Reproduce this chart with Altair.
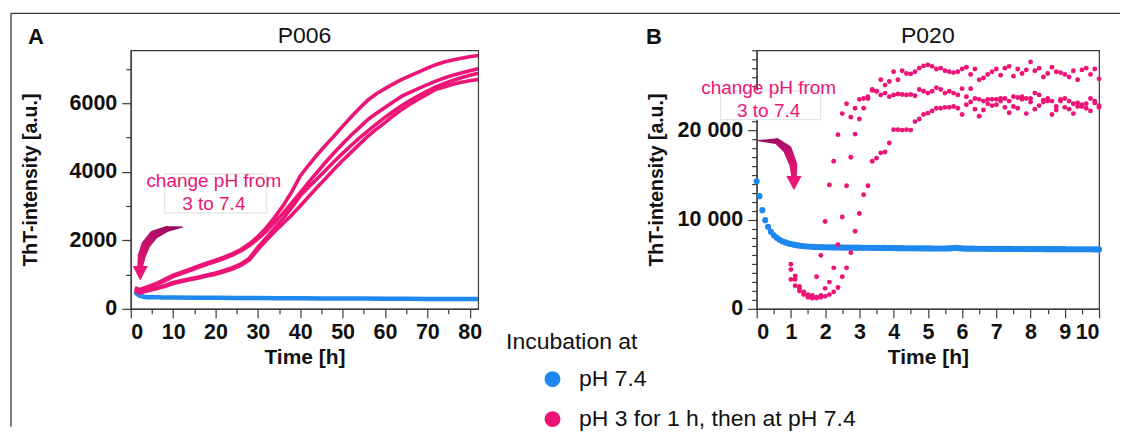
import altair as alt
import pandas as pd

FONT = "Liberation Sans"
PINK = "#EC1476"
BLUE = "#1E88F0"
DARK = "#8A0B5E"
INK = "#111111"
FRAME = "#3a3a3a"

COND_BLUE = "pH 7.4"
COND_PINK = "pH 3 for 1 h, then at pH 7.4"

# ---------------- Panel A (P006) ----------------
a_time = [1, 2, 4, 6, 8, 10, 12, 14, 16, 18, 20, 22, 24, 26, 28, 30, 32, 34, 36, 38, 40,
          42, 44, 46, 48, 50, 52, 54, 56, 58, 60, 62, 64, 66, 68, 70, 72, 74, 76, 78, 80, 82]
a_rep1 = [620, 560, 650, 740, 860, 980, 1070, 1160, 1250, 1340, 1420, 1510, 1610, 1730, 1900, 2110,
          2370, 2680, 3020, 3420, 3880, 4200, 4500, 4780, 5050, 5330, 5600, 5860, 6100, 6280, 6430,
          6570, 6700, 6810, 6920, 7030, 7130, 7210, 7270, 7320, 7360, 7400]
a_rep2 = [600, 540, 620, 710, 820, 940, 1030, 1120, 1210, 1300, 1380, 1470, 1570, 1690, 1850, 2040,
          2270, 2530, 2800, 3090, 3390, 3700, 3990, 4280, 4560, 4820, 5070, 5300, 5530, 5710, 5880,
          6050, 6210, 6330, 6440, 6550, 6650, 6740, 6820, 6890, 6950, 7010]
a_rep3 = [560, 480, 550, 610, 680, 770, 830, 880, 930, 990, 1050, 1120, 1200, 1310, 1480, 1800,
          2080, 2360, 2640, 2960, 3300, 3560, 3800, 4050, 4300, 4540, 4770, 4990, 5200, 5400, 5590,
          5770, 5940, 6090, 6230, 6360, 6480, 6580, 6670, 6750, 6820, 6880]
a_rep4 = [540, 460, 530, 590, 650, 740, 800, 850, 900, 960, 1010, 1080, 1160, 1270, 1430, 1730,
          2000, 2260, 2500, 2740, 3005, 3280, 3550, 3810, 4075, 4330, 4570, 4810, 5047, 5250, 5440,
          5640, 5825, 5980, 6130, 6270, 6410, 6480, 6560, 6620, 6660, 6700]
a_blue_time = [1, 1.5, 2, 3, 4, 6, 8, 10, 15, 20, 25, 30, 35, 40, 45, 50, 55, 60, 65, 70, 75, 80, 82]
a_blue = [500, 430, 390, 355, 340, 335, 333, 330, 326, 322, 318, 315, 312, 308, 305, 302, 299, 296,
          293, 290, 288, 286, 285]

a_x_major = [0, 10, 20, 30, 40, 50, 60, 70, 80]
a_x_minor = [5, 15, 25, 35, 45, 55, 65, 75]
a_y_major = [0, 2000, 4000, 6000]
a_y_minor = [1000, 3000, 5000, 7000]

a_note_text = ["change pH from", "3 to 7.4"]
a_note_t = [19.6, 19.6]
a_note_v = [3734, 3063]
a_box = {"t1": 8.0, "t2": 32.1, "v1": 2800, "v2": 3938}
a_arrow_t = [12.26, 8.49, 5.42, 3.54, 2.59, 2.24]
a_arrow_v = [2392, 2334, 2159, 1867, 1546, 1254]
a_head = {"t": 2.24, "v": 1050}

# ---------------- Panel B (P020) ----------------
b_blue_time = [round(k / 12, 4) for k in range(121)]   # 5-min sampling grid
b_blue = [14300, 12640, 11070, 9950, 9200, 8650, 8250, 7980, 7750, 7580, 7450, 7350, 7270, 7200,
          7140, 7090, 7050, 7020, 6990, 6970, 6950, 6940, 6930, 6920, 6910,
          6900, 6900, 6890, 6890, 6880, 6880, 6870, 6870, 6870, 6860, 6860, 6860,
          6850, 6850, 6850, 6840, 6840, 6840, 6830, 6830, 6830, 6820, 6820, 6820,
          6810, 6810, 6810, 6800, 6800, 6800, 6790, 6790, 6790, 6780, 6780, 6780,
          6780, 6770, 6770, 6770, 6770, 6770, 6780, 6790, 6820, 6840, 6810, 6780,
          6760, 6750, 6750, 6750, 6740, 6740, 6740, 6740, 6730, 6730, 6730, 6730,
          6720, 6720, 6720, 6720, 6720, 6710, 6710, 6710, 6710, 6710, 6700, 6700,
          6700, 6700, 6700, 6700, 6690, 6690, 6690, 6690, 6690, 6690, 6690, 6690,
          6680, 6680, 6680, 6680, 6680, 6680, 6680, 6680, 6680, 6670, 6670, 6670]
b_pink_time = [round(1 + 0.125 * k, 3) for k in range(73)]  # 7.5-min sampling grid
b_rep1 = [5000, 3300, 2500, 1900, 1600, 1500, 3600, 6000, 9800, 13900,
          16550, 19540, 21900, 23000, 21500, 22500, 23500, 23600, 23600, 24500,
          24400, 24000, 24200, 23800, 24000, 24100, 24050, 24000, 24050, 23900,
          24600, 24400, 24200, 24400, 24800, 24600, 24200, 24400, 24200, 24000,
          24700, 23800, 24700, 23600, 23500, 23300, 23000, 22800, 23500, 23600,
          23600, 23300, 22700, 22500, 23800, 23600, 23600, 24200, 24000, 23400,
          23300, 23300, 22700, 23500, 23600, 23300, 23000, 22700, 22700, 23000,
          23600, 23300, 22800]
b_rep2 = [4400, 3700, 2300, 1800, 1500, 1300, 1300, 1500, 2300, 3000,
          4600, 7200, 10300, 13800, 17000, 19600, 21300, 22500, 23800, 24600,
          24400, 25700, 25100, 25500, 26600, 25700, 26700, 26400, 26350, 26600,
          27000, 27250, 27370, 27200, 26900, 27000, 26700, 26600, 26500, 26600,
          26900, 27100, 26300, 26900, 25700, 25900, 26300, 26600, 26900, 26200,
          27000, 27200, 26100, 26900, 26400, 26800, 27700, 26700, 27000, 26000,
          26400, 27100, 26600, 26500, 26300, 26000, 26700, 25700, 26800, 27000,
          26300, 26900, 25800]
b_rep3 = [3300, 2600, 2000, 1600, 1300, 1200, 1200, 1300, 1400, 1600,
          1900, 2400, 3600, 4600, 6300, 8700, 10700, 12800, 13800, 16550,
          16900, 17500, 17600, 18600, 20100, 20100, 20050, 20100, 20050, 21000,
          21300, 21800, 21950, 22200, 22500, 22500, 22600, 22600, 22700, 22500,
          21800, 22900, 23200, 22400, 21600, 22300, 23500, 23500, 22900, 23300,
          22600, 22000, 23800, 23700, 23500, 21900, 23200, 22400, 22800, 23200,
          23600, 21800, 22300, 23300, 22600, 22400, 21900, 23100, 22900, 22500,
          22200, 23100, 22600]

b_x_major = [0, 1, 2, 3, 4, 5, 6, 7, 8, 9, 10]
b_x_minor = [0.5, 1.5, 2.5, 3.5, 4.5, 5.5, 6.5, 7.5, 8.5, 9.5]
b_y_major = [0, 10000, 20000]
b_y_minor = [1000, 2000, 3000, 4000, 5000, 6000, 7000, 8000, 9000,
             11000, 12000, 13000, 14000, 15000, 16000, 17000, 18000, 19000,
             21000, 22000, 23000, 24000, 25000, 26000, 27000, 28000, 29000]

b_note_text = ["change pH from", "3 to 7.4"]
b_note_t = [0.35, 0.35]
b_note_v = [24750, 22150]
b_box = {"t1": -1.05, "t2": 1.87, "v1": 21220, "v2": 24460}
b_arrow_t = [0.03, 0.60, 0.90, 1.07, 1.09]
b_arrow_v = [18870, 18790, 17860, 16190, 15070]
b_head = {"t": 1.09, "v": 14150}

# styling of the curved arrows (pixel widths along the path)
A_ARROW_W = [1, 6, 9, 9, 8, 6]
B_ARROW_W = [1, 6, 9, 8, 6]

W_A, W_B, H = 348, 343, 259

# ---------------- tables ----------------
dfA_pink = pd.DataFrame([{"t": t, "v": v, "rep": i}
                         for i, s in enumerate([a_rep1, a_rep2, a_rep3, a_rep4])
                         for t, v in zip(a_time, s)])
dfA_blue = pd.DataFrame({"t": a_blue_time, "v": a_blue})
dfB_blue = pd.DataFrame({"t": b_blue_time, "v": b_blue, "cond": COND_BLUE})
dfB_pink = pd.DataFrame([{"t": t, "v": v, "rep": i, "cond": COND_PINK}
                         for i, s in enumerate([b_rep1, b_rep2, b_rep3])
                         for t, v in zip(b_pink_time, s)])


def note_df(texts, ts, vs):
    return pd.DataFrame({"line": texts, "t": ts, "v": vs})


def arrow_df(ts, vs, ws):
    return pd.DataFrame({"t": ts, "v": vs, "w": ws, "i": list(range(len(ts)))})


HEAD_SHAPE = "M-1,-0.9L1,-0.9L0,1Z"
ONE = alt.Data(values=[{"k": 1}])


def panel(label, label_x, title, xdom, ydom, width, x_major, x_minor, y_major, y_minor,
          y_label_expr, data_layers, note, box, arrow, head, grad, frame=False):
    xs = alt.Scale(domain=xdom, nice=False, zero=False)
    ys = alt.Scale(domain=ydom, nice=False, zero=False)

    def X(field="t", axis=None):
        return alt.X(f"{field}:Q", scale=xs, axis=axis)

    def Y(field="v", axis=None):
        return alt.Y(f"{field}:Q", scale=ys, axis=axis)

    ax_x = alt.Axis(values=x_major, tickSize=9, labelPadding=4, title="Time [h]", orient="bottom",
                    titleY=55, titleBaseline="alphabetic", format="d", titleFontSize=21)
    ax_y = alt.Axis(values=y_major, tickSize=9, labelPadding=5, title="ThT-intensity [a.u.]",
                    orient="left", titleX=-94, titleY=H / 2, titleBaseline="alphabetic",
                    labelExpr=y_label_expr, titleFontSize=19.5)
    ax_xm = alt.Axis(values=x_minor, tickSize=5, labels=False, domain=False, title=None,
                     orient="bottom")
    ax_ym = alt.Axis(values=y_minor, tickSize=5, labels=False, domain=False, title=None,
                     orient="left")

    base_df = data_layers[0][0]
    axes_layer = alt.Chart(base_df).mark_point(opacity=0).encode(x=X(axis=ax_x), y=Y(axis=ax_y))
    minor_layer = alt.Chart(base_df).mark_point(opacity=0).encode(x=X(axis=ax_xm), y=Y(axis=ax_ym))

    layers = [axes_layer, minor_layer]
    for df, make in data_layers:
        layers.append(make(alt.Chart(df), X, Y))

    box_l = alt.Chart(alt.Data(values=[box])).mark_rect(
        fill="white", stroke="#dedede", strokeWidth=1).encode(
        x=X("t1"), x2="t2:Q", y=Y("v1"), y2="v2:Q")
    note_l = alt.Chart(note).mark_text(color=PINK, fontSize=19, font=FONT).encode(
        x=X(), y=Y(), text="line:N")
    arrow_l = alt.Chart(arrow).mark_trail(color=grad).encode(
        x=X(), y=Y(), size=alt.Size("w:Q", scale=None, legend=None), order="i:Q")
    head_l = alt.Chart(alt.Data(values=[head])).mark_point(
        shape=HEAD_SHAPE, filled=True, size=230, color=PINK, opacity=1, strokeWidth=0).encode(
        x=X(), y=Y())
    label_l = alt.Chart(ONE).mark_text(text=label, fontSize=22, fontWeight="bold", font=FONT,
                                      color=INK, align="center", baseline="middle").encode(
        x=alt.value(label_x), y=alt.value(-13.5))
    title_l = alt.Chart(ONE).mark_text(text=title, fontSize=23, fontWeight="normal", font=FONT,
                                      color=INK, align="center", baseline="alphabetic").encode(
        x=alt.value(width / 2), y=alt.value(-7))
    layers += [box_l, note_l, arrow_l, head_l, label_l, title_l]
    if frame:
        layers.append(alt.Chart(ONE).mark_rule(color=FRAME, strokeWidth=1.3).encode(
            x=alt.value(-120), x2=alt.value(991), y=alt.value(-37)))
        layers.append(alt.Chart(ONE).mark_rule(color=FRAME, strokeWidth=1.3).encode(
            x=alt.value(-120), y=alt.value(-37), y2=alt.value(377)))

    return alt.layer(*layers).resolve_axis(x="independent", y="independent").properties(
        width=width, height=H)


def mk_blue_line(c, X, Y):
    return c.mark_line(color=BLUE, strokeWidth=4.5).encode(x=X(), y=Y())


def mk_pink_lines(c, X, Y):
    return c.mark_line(color=PINK, strokeWidth=3.6).encode(x=X(), y=Y(), detail="rep:N")


LEGEND = alt.Legend(title="Incubation at", orient="none", legendX=376, legendY=281,
                    titleFontSize=23, titleFontWeight="normal", titleFont=FONT, titleColor=INK,
                    titleLimit=0, labelLimit=0,
                    labelFontSize=23, labelFont=FONT, labelColor=INK, symbolSize=254,
                    symbolOffset=35, labelOffset=15, rowPadding=16, titlePadding=14,
                    padding=0, symbolStrokeWidth=0, symbolType="circle")
COLOR = alt.Color("cond:N", scale=alt.Scale(domain=[COND_BLUE, COND_PINK], range=[BLUE, PINK]),
                  legend=LEGEND)


def mk_blue_dots(c, X, Y):
    return c.mark_circle(size=38, opacity=1).encode(x=X(), y=Y(), color=COLOR)


def mk_pink_dots(c, X, Y):
    return c.mark_circle(size=24, opacity=1).encode(x=X(), y=Y(), color=COLOR)


grad_a = alt.Gradient(gradient="linear",
                      stops=[alt.GradientStop(color=DARK, offset=0),
                             alt.GradientStop(color=PINK, offset=1)],
                      x1=1, y1=0, x2=0, y2=1)
grad_b = alt.Gradient(gradient="linear",
                      stops=[alt.GradientStop(color=DARK, offset=0),
                             alt.GradientStop(color=PINK, offset=1)],
                      x1=0, y1=0, x2=1, y2=1)

chart_a = panel("A", -95, "P006", [0, 82], [0, 7550], W_A, a_x_major, a_x_minor, a_y_major,
                a_y_minor, "format(datum.value, 'd')",
                [(dfA_blue, mk_blue_line), (dfA_pink, mk_pink_lines)],
                note_df(a_note_text, a_note_t, a_note_v), a_box,
                arrow_df(a_arrow_t, a_arrow_v, A_ARROW_W), a_head, grad_a, frame=True)

chart_b = panel("B", -103, "P020", [0, 10], [0, 29000], W_B, b_x_major, b_x_minor, b_y_major,
                b_y_minor, "replace(format(datum.value, ','), ',', ' ')",
                [(dfB_blue, mk_blue_dots), (dfB_pink, mk_pink_dots)],
                note_df(b_note_text, b_note_t, b_note_v), b_box,
                arrow_df(b_arrow_t, b_arrow_v, B_ARROW_W), b_head, grad_b)

chart = alt.hconcat(chart_a, chart_b, spacing=279, bounds="flush").properties(
    padding={"left": 1, "top": 3, "right": 0, "bottom": 0}
).configure_view(
    stroke=FRAME, strokeWidth=1.2
).configure_axis(
    labelFont=FONT, labelFontSize=21.5, labelFontWeight="bold", labelColor=INK,
    titleFont=FONT, titleFontWeight="bold", titleColor=INK,
    domainColor=FRAME, domainWidth=1.2, tickColor=FRAME, tickWidth=1.2, grid=False
).configure_text(font=FONT)

chart.save("out.html", embed_options={"renderer": "svg", "actions": False})
